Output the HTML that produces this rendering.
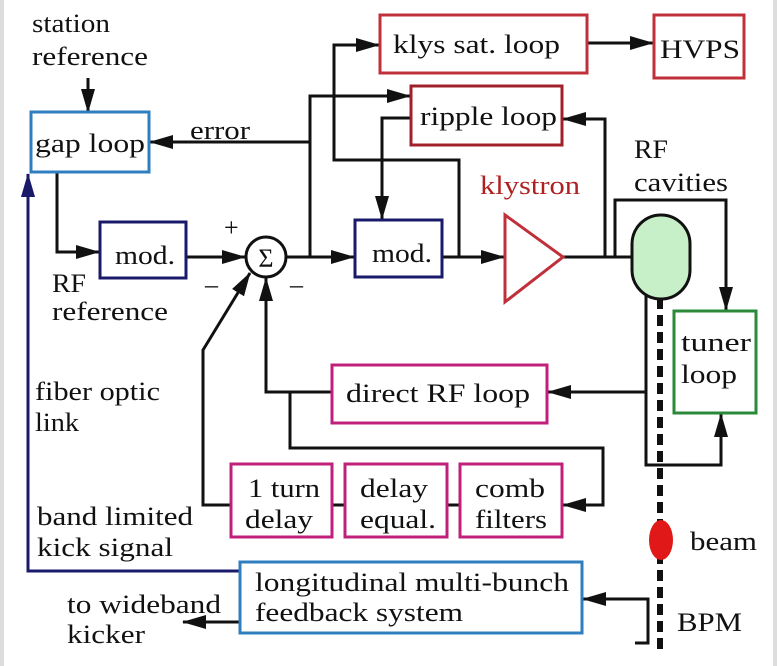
<!DOCTYPE html>
<html><head><meta charset="utf-8"><style>
html,body{margin:0;padding:0;background:#fff}
svg{display:block}
text{font-family:"Liberation Serif",serif;font-size:26px;fill:#111}
</style></head><body>
<svg width="777" height="666" viewBox="0 0 777 666" xmlns="http://www.w3.org/2000/svg">
<defs>
<marker id="A" markerWidth="24" markerHeight="14" refX="23" refY="7" orient="auto" markerUnits="userSpaceOnUse"><path d="M0,0 L24,7 L0,14 z" fill="#111"/></marker>
<marker id="B" markerWidth="24" markerHeight="14" refX="23" refY="7" orient="auto" markerUnits="userSpaceOnUse"><path d="M0,0 L24,7 L0,14 z" fill="#1a1a6a"/></marker>
</defs>
<rect x="0" y="0" width="4" height="666" fill="#ddd"/>
<rect x="773" y="0" width="4" height="666" fill="#ddd"/>
<g fill="none" stroke="#111" stroke-width="3">
<path d="M88 78 V112" marker-end="url(#A)"/>
<path d="M310 142 H150" marker-end="url(#A)"/>
<path d="M57 172 V252 H99" marker-end="url(#A)"/>
<path d="M186 257 H245" marker-end="url(#A)"/>
<path d="M286 257 H354" marker-end="url(#A)"/>
<path d="M310 257 V96 H410" marker-end="url(#A)"/>
<path d="M459 257 V160 H334 V45 H379" marker-end="url(#A)"/>
<path d="M411 118 H382 V219" marker-end="url(#A)"/>
<path d="M587 43 H653" marker-end="url(#A)"/>
<path d="M442 257 H504" marker-end="url(#A)"/>
<path d="M563 257 H632"/>
<path d="M605 257 V119 H563" marker-end="url(#A)"/>
<path d="M615 257 V200 H726 V310" marker-end="url(#A)"/>
<path d="M646 296 V465 H721 V414" marker-end="url(#A)"/>
<path d="M646 392 H548" marker-end="url(#A)"/>
<path d="M332 392 H266 V278" marker-end="url(#A)"/>
<path d="M290 392 V448 H603 V505 H563" marker-end="url(#A)"/>
<path d="M231 505 H203 V350 L250 273" marker-end="url(#A)"/>
<path d="M332 505 H345 M447 505 H460"/>
<path d="M635 643 H648 V599 H583" marker-end="url(#A)"/>
<path d="M240 622 H183" marker-end="url(#A)"/>
</g>
<path d="M240 571 H28 V174" fill="none" stroke="#1a1a6a" stroke-width="3" marker-end="url(#B)"/>
<g fill="#fff" stroke-width="3">
<rect x="31" y="112" width="118" height="60" stroke="#2f7fc0"/>
<rect x="100" y="222" width="86" height="56" stroke="#1a1a6a"/>
<rect x="355" y="220" width="87" height="57" stroke="#1a1a6a"/>
<rect x="380" y="15" width="207" height="58" stroke="#c0303a"/>
<rect x="654" y="15" width="90" height="63" stroke="#c0303a"/>
<rect x="411" y="86" width="151" height="59" stroke="#a0202a"/>
<rect x="674" y="311" width="82" height="102" stroke="#2a8a3a"/>
<rect x="332" y="365" width="215" height="58" stroke="#c0207a"/>
<rect x="231" y="464" width="101" height="73" stroke="#c0207a"/>
<rect x="345" y="464" width="102" height="73" stroke="#c0207a"/>
<rect x="460" y="464" width="102" height="73" stroke="#c0207a"/>
<rect x="240" y="562" width="342" height="71" stroke="#2f7fc0"/>
</g>
<circle cx="266" cy="257" r="20" fill="#fff" stroke="#111" stroke-width="3"/>
<text x="266" y="267" text-anchor="middle" font-size="26">Σ</text>
<path d="M505 215 L563 257 L505 302 Z" fill="#fff" stroke="#c0303a" stroke-width="3"/>
<line x1="660" y1="298" x2="660" y2="650" stroke="#111" stroke-width="6" stroke-dasharray="11,6"/>
<rect x="632" y="215" width="58" height="84" rx="29" ry="29" fill="#c8f0c8" stroke="#111" stroke-width="3"/>
<ellipse cx="661" cy="540" rx="12" ry="20" fill="#e01818"/>
<g lengthAdjust="spacingAndGlyphs">
<text x="32" y="32" textLength="78" lengthAdjust="spacingAndGlyphs">station</text>
<text x="32" y="65" textLength="116" lengthAdjust="spacingAndGlyphs">reference</text>
<text x="35" y="152" textLength="110" lengthAdjust="spacingAndGlyphs">gap loop</text>
<text x="190" y="139" textLength="60" lengthAdjust="spacingAndGlyphs">error</text>
<text x="115" y="264" textLength="60" lengthAdjust="spacingAndGlyphs">mod.</text>
<text x="372" y="262" textLength="60" lengthAdjust="spacingAndGlyphs">mod.</text>
<text x="224" y="236" font-size="20">+</text>
<text x="205" y="293" font-size="20">–</text>
<text x="290" y="293" font-size="20">–</text>
<text x="52" y="292" textLength="34" lengthAdjust="spacingAndGlyphs">RF</text>
<text x="52" y="320" textLength="116" lengthAdjust="spacingAndGlyphs">reference</text>
<text x="393" y="53" textLength="167" lengthAdjust="spacingAndGlyphs">klys sat. loop</text>
<text x="660" y="58" textLength="80" lengthAdjust="spacingAndGlyphs">HVPS</text>
<text x="420" y="125" textLength="137" lengthAdjust="spacingAndGlyphs">ripple loop</text>
<text x="480" y="194" textLength="100" lengthAdjust="spacingAndGlyphs" style="fill:#b02020">klystron</text>
<text x="634" y="158" textLength="34" lengthAdjust="spacingAndGlyphs">RF</text>
<text x="634" y="191" textLength="94" lengthAdjust="spacingAndGlyphs">cavities</text>
<text x="681" y="351" textLength="70" lengthAdjust="spacingAndGlyphs">tuner</text>
<text x="681" y="383" textLength="56" lengthAdjust="spacingAndGlyphs">loop</text>
<text x="346" y="402" textLength="184" lengthAdjust="spacingAndGlyphs">direct RF loop</text>
<text x="35" y="400" textLength="125" lengthAdjust="spacingAndGlyphs">fiber optic</text>
<text x="35" y="431" textLength="44" lengthAdjust="spacingAndGlyphs">link</text>
<text x="248" y="497" textLength="72" lengthAdjust="spacingAndGlyphs">1 turn</text>
<text x="245" y="528" textLength="68" lengthAdjust="spacingAndGlyphs">delay</text>
<text x="360" y="497" textLength="68" lengthAdjust="spacingAndGlyphs">delay</text>
<text x="360" y="528" textLength="76" lengthAdjust="spacingAndGlyphs">equal.</text>
<text x="475" y="497" textLength="70" lengthAdjust="spacingAndGlyphs">comb</text>
<text x="475" y="528" textLength="72" lengthAdjust="spacingAndGlyphs">filters</text>
<text x="37" y="525" textLength="156" lengthAdjust="spacingAndGlyphs">band limited</text>
<text x="37" y="556" textLength="136" lengthAdjust="spacingAndGlyphs">kick signal</text>
<text x="690" y="550" textLength="67" lengthAdjust="spacingAndGlyphs">beam</text>
<text x="255" y="591" textLength="314" lengthAdjust="spacingAndGlyphs">longitudinal multi-bunch</text>
<text x="255" y="621" textLength="208" lengthAdjust="spacingAndGlyphs">feedback system</text>
<text x="67" y="613" textLength="154" lengthAdjust="spacingAndGlyphs">to wideband</text>
<text x="67" y="643" textLength="78" lengthAdjust="spacingAndGlyphs">kicker</text>
<text x="677" y="631" textLength="65" lengthAdjust="spacingAndGlyphs">BPM</text>
</g>
</svg>
</body></html>
